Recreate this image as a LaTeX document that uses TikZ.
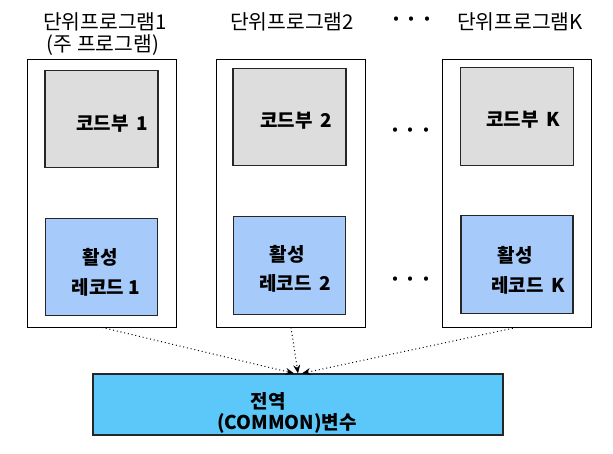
\documentclass[tikz,border=0pt]{standalone}
\usepackage{fontspec}
\setmainfont{Noto Sans CJK KR}
\usetikzlibrary{arrows.meta, calc}
\definecolor{codegray}{RGB}{221,221,221}
\definecolor{recblue}{RGB}{166,202,250}
\definecolor{commonblue}{RGB}{92,200,250}

\begin{document}
\begin{tikzpicture}[x=0.025cm, y=-0.025cm]
            \tikzstyle{unit} = [rectangle, draw=black, fill=white, line width=0.6pt, minimum width=3.72cm, minimum height=6.7cm]
            \tikzstyle{code} = [rectangle, draw=black!85, fill=codegray, line width=0.9pt, minimum width=2.82cm, minimum height=2.44cm]
            \tikzstyle{record} = [rectangle, draw=black!85, fill=recblue, line width=0.9pt, minimum width=2.8cm, minimum height=2.44cm]
            \tikzstyle{title} = [inner sep=0pt, font=\fontsize{14.5}{17}\selectfont]
            \tikzstyle{label} = [inner sep=0pt, font=\fontsize{13.5}{16}\selectfont\bfseries]
            \tikzstyle{dots} = [inner sep=0pt, font=\fontsize{14}{16}\selectfont\bfseries]
            \tikzstyle{arrow} = [dotted, line width=0.7pt, -{Stealth[length=6pt, width=5pt]}]

            \useasboundingbox (0,0) rectangle (613,454);

            % unit programs
            \node[unit] (unit1) at (102,193) {};
            \node[unit] (unit2) at (291,193) {};
            \node[unit] (unitk) at (516.5,193) {};

            \node[code] (code1) at (101.5,119) {};
            \node[code] (code2) at (289.5,117) {};
            \node[code] (codek) at (517,116.5) {};

            \node[record] (rec1) at (101.5,267) {};
            \node[record] (rec2) at (289.5,265.5) {};
            \node[record] (reck) at (517,264.5) {};

            \node[rectangle, draw=black!85, fill=commonblue, line width=0.9pt, minimum width=10.25cm, minimum height=1.525cm] (common) at (298,404.5) {};

            % titles
            \node[title] (title1) at (105,22) {단위프로그램1};
            \node[title] (main1) at (103,45) {(주 프로그램)};
            \node[title] (title2) at (292,22) {단위프로그램2};
            \node[title] (titlek) at (520,22) {단위프로그램K};
            \node[dots] (dots1) at (412,22) {·\,·\,·};
            \node[dots] (dots2) at (411,133) {·\,·\,·};
            \node[dots] (dots3) at (411,282) {·\,·\,·};

            % texts in boxes
            \node[label] (codetext1) at (112,124) {코드부\, 1};
            \node[label] (codetext2) at (296,121) {코드부\, 2};
            \node[label] (codetextk) at (523,120) {코드부\, K};
            \node[label] (act1) at (100,257) {활성};
            \node[label] (act2) at (287,254) {활성};
            \node[label] (actk) at (515,255) {활성};
            \node[label] (rectext1) at (106,287) {레코드 1};
            \node[label] (rectext2) at (295,283) {레코드\, 2};
            \node[label] (rectextk) at (528,285) {레코드\, K};
            \node[label] (global) at (268,401) {전역};
            \node[label] (commonvar) at (287,423) {(COMMON)변수};

            \draw[arrow] (unit1.south) -- ([xshift=-0.1cm]common.north);
            \draw[arrow] (unit2.south) -- (common.north);
            \draw[arrow] (unitk.south) -- ([xshift=0.1cm]common.north);
        \end{tikzpicture}
\end{document}
